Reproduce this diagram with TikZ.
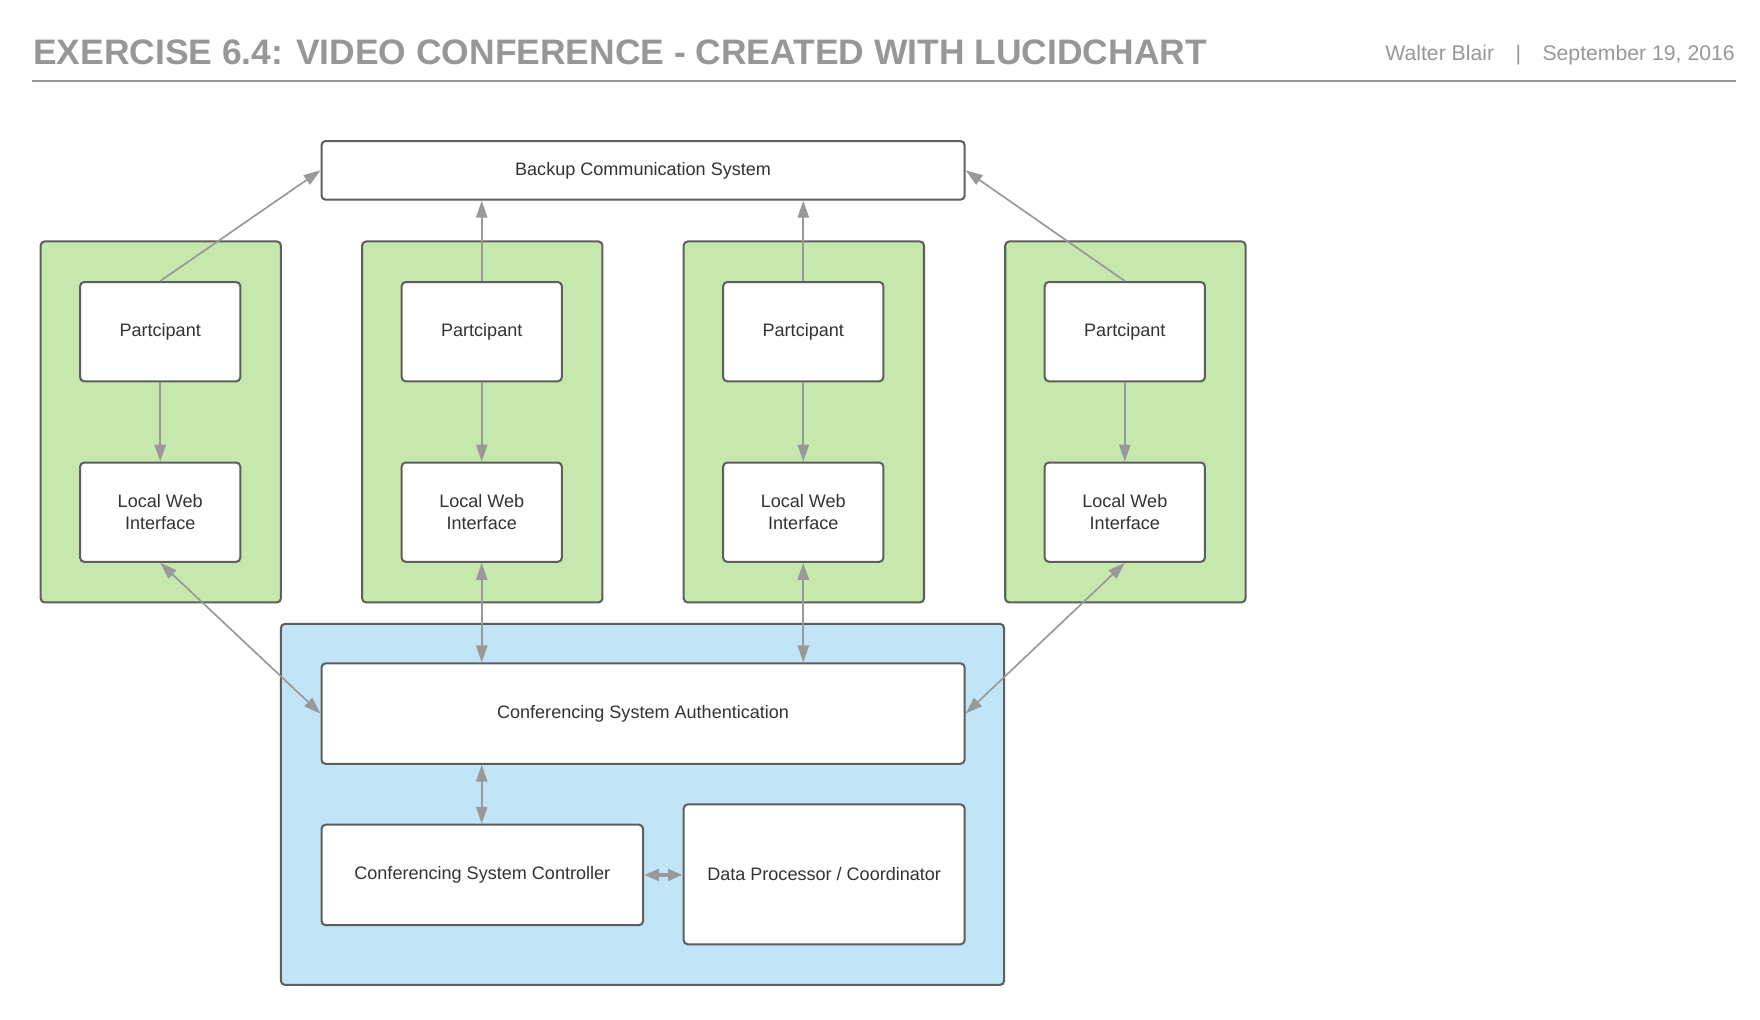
\documentclass[tikz,border=0pt]{standalone}
\usepackage{fontspec}
\setmainfont{Liberation Sans}
\usetikzlibrary{arrows.meta}
\definecolor{bordergray}{HTML}{5E5E5E}
\definecolor{arrowgray}{HTML}{999999}
\definecolor{titlegray}{HTML}{979797}
\definecolor{txtgray}{HTML}{333333}
\definecolor{lgreen}{HTML}{C7E8AC}
\definecolor{lblue}{HTML}{C1E4F7}
\begin{document}
\begin{tikzpicture}[x=0.5pt,y=-0.5pt,
  box/.style={draw=bordergray, line width=0.9pt, rounded corners=1.8pt, fill=white,
    text=txtgray, align=center, inner sep=0pt, font=\fontsize{8}{9.5}\selectfont},
  grp/.style={draw=bordergray, line width=0.9pt, rounded corners=1.8pt, inner sep=0pt},
  conn/.style={draw=arrowgray, line width=0.75pt, -{Triangle[length=7.5pt,width=5pt]}},
  biconn/.style={draw=arrowgray, line width=0.75pt, {Triangle[length=7.5pt,width=5pt]}-{Triangle[length=7.5pt,width=5pt]}},
  thickconn/.style={draw=arrowgray, line width=1.5pt, {Triangle[length=6.5pt,width=5pt]}-{Triangle[length=6.5pt,width=5pt]}}
]
\useasboundingbox (0,0) rectangle (1560,904);
% header
\node[anchor=base west, inner sep=0pt, text=titlegray, font=\bfseries\fontsize{15.7}{18}\selectfont] (title) at (29,57) {EXERCISE 6.4: VIDEO CONFERENCE - CREATED WITH LUCIDCHART};
\node[anchor=base east, inner sep=0pt, text=titlegray, font=\fontsize{9.4}{11}\selectfont] (author) at (1538,54) {Walter Blair\hspace{9.5pt}|\hspace{9.5pt}September 19, 2016};
\coordinate (hl) at (28,72);
\coordinate (hr) at (1539,72);
\draw[titlegray, line width=1pt] (hl) -- (hr);

% groups
\foreach \i/\x in {1/142.5,2/427.5,3/712.5,4/997.5}{
  \node[grp, fill=lgreen, minimum width=106.5pt, minimum height=160pt] (g\i) at (\x,374) {};
}
\node[grp, fill=lblue, minimum width=320.5pt, minimum height=160pt] (bl) at (569.5,713) {};

% boxes
\node[box, minimum width=285pt, minimum height=26pt] (bk) at (570,151) {Backup Communication System};
\foreach \i/\x in {1/142,2/427,3/712,4/997}{
  \node[box, minimum width=71pt, minimum height=44pt] (p\i) at (\x,294) {Partcipant};
  \node[box, minimum width=71pt, minimum height=44pt] (l\i) at (\x,454) {Local Web\\Interface};
}
\node[box, minimum width=285pt, minimum height=44.5pt] (au) at (570,632.5) {Conferencing System Authentication};
\node[box, minimum width=142.5pt, minimum height=44.5pt] (ct) at (427.5,775.5) {Conferencing System Controller};
\node[box, minimum width=124.5pt, minimum height=62pt] (dp) at (730.5,775) {Data Processor / Coordinator};

% connectors
\draw[conn] (p1.north) -- (bk.west);
\draw[conn] (p2.north) -- (p2.north |- bk.south);
\draw[conn] (p3.north) -- (p3.north |- bk.south);
\draw[conn] (p4.north) -- (bk.east);
\foreach \i in {1,2,3,4}{
  \draw[conn] (p\i.south) -- (l\i.north);
}
\draw[biconn] (l1.south) -- (au.west);
\draw[biconn] (l2.south) -- (l2.south |- au.north);
\draw[biconn] (l3.south) -- (l3.south |- au.north);
\draw[biconn] (l4.south) -- (au.east);
\draw[biconn] (ct.north -| l2.south) -- (au.south -| l2.south);
\draw[thickconn] (ct.east) -- (ct.east -| dp.west);
\end{tikzpicture}
\end{document}
